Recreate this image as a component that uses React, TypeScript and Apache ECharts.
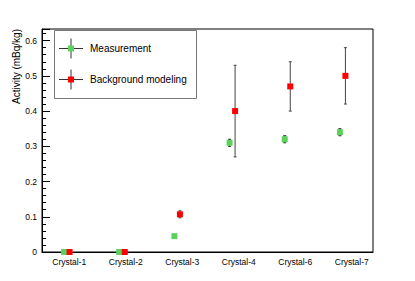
import React, { useEffect, useRef } from "react";
import * as echarts from "echarts";

const categories = ["Crystal-1", "Crystal-2", "Crystal-3", "Crystal-4", "Crystal-6", "Crystal-7"];
const measurement = [0, 0, 0.045, 0.31, 0.32, 0.34];
const measurementErr = [0, 0, 0, 0.01, 0.01, 0.01];
const background = [0, 0, 0.107, 0.4, 0.47, 0.5];
const backgroundErr = [0, 0, 0.01, 0.13, 0.07, 0.08];
const yTicks = [0, 0.1, 0.2, 0.3, 0.4, 0.5, 0.6];

const GREEN = "#5cd25c";
const RED = "#ff0000";
const FONT = "'Liberation Sans', Arial, Helvetica, sans-serif";

const App = () => {
  const ref = useRef<HTMLDivElement>(null);
  useEffect(() => {
    if (!ref.current) return;
    const chart = echarts.init(ref.current, undefined, { renderer: "svg" });

    const measPts = measurement.map((v, i) => [i + 0.4, v]);
    const bgPts = background.map((v, i) => [i + 0.5, v]);
    const measErr = measurement.map((v, i) => [i + 0.4, v - measurementErr[i], v + measurementErr[i]]);
    const bgErr = background.map((v, i) => [i + 0.5, v - backgroundErr[i], v + backgroundErr[i]]);

    const errRender = (color: string) => (params: any, api: any) => {
      const x = api.value(0);
      const lo = api.value(1);
      const hi = api.value(2);
      if (hi - lo <= 0) return { type: "group", children: [] };
      const p1 = api.coord([x, lo]);
      const p2 = api.coord([x, hi]);
      const cap = 1.5;
      const style = { stroke: color, lineWidth: 1 };
      return {
        type: "group",
        children: [
          { type: "line", shape: { x1: p1[0], y1: p1[1], x2: p2[0], y2: p2[1] }, style },
          { type: "line", shape: { x1: p1[0] - cap, y1: p1[1], x2: p1[0] + cap, y2: p1[1] }, style },
          { type: "line", shape: { x1: p2[0] - cap, y1: p2[1], x2: p2[0] + cap, y2: p2[1] }, style },
        ],
      };
    };

    const legendX = 54, legendY = 30, legendW = 142, legendH = 68;
    const entry = (cy: number, color: string, label: string) => [
      { type: "line", shape: { x1: 59, y1: cy, x2: 83, y2: cy }, style: { stroke: "#333", lineWidth: 1 } },
      { type: "line", shape: { x1: 71, y1: cy - 10, x2: 71, y2: cy + 10 }, style: { stroke: "#333", lineWidth: 1 } },
      { type: "rect", shape: { x: 68, y: cy - 3, width: 6, height: 6 }, style: { fill: color } },
      { type: "text", x: 90, y: cy, style: { text: label, fill: "#000", font: `10px ${FONT}`, verticalAlign: "middle", align: "left" } },
    ];

    chart.setOption({
      animation: false,
      backgroundColor: "#fff",
      grid: [
        { left: 42, right: 42, top: 29, bottom: 29, show: true, borderColor: "#000", borderWidth: 1, backgroundColor: "transparent" },
        { left: 41, right: 35, top: 29, bottom: 29, show: false },
      ],
      xAxis: [
        {
          type: "value",
          gridIndex: 0,
          min: 0,
          max: 6,
          interval: 0.5,
          axisLine: { show: true, lineStyle: { color: "#000" } },
          axisTick: { show: false },
          splitLine: { show: false },
          axisLabel: { show: false },
        },
        {
          type: "category",
          gridIndex: 1,
          data: categories,
          boundaryGap: true,
          axisLine: { show: false },
          axisTick: { show: false },
          splitLine: { show: false },
          axisLabel: { color: "#000", fontSize: 8.5, fontFamily: FONT, margin: 5, interval: 0 },
        },
      ],
      yAxis: [
        {
          type: "value",
          gridIndex: 0,
          min: 0,
          max: 0.633,
          interval: 0.1,
          axisLine: { show: true, lineStyle: { color: "#000" } },
          axisTick: { show: true, inside: true, length: 8, lineStyle: { color: "#000" } },
          minorTick: { show: true, splitNumber: 5, length: 4, lineStyle: { color: "#000" } },
          splitLine: { show: false },
          axisLabel: {
            color: "#000",
            fontSize: 8.5,
            fontFamily: FONT,
            margin: 5,
            formatter: (v: number) => {
              const t = yTicks.find((y) => Math.abs(y - v) < 1e-6);
              return t === undefined ? "" : String(t);
            },
          },
        },
        {
          type: "value",
          gridIndex: 1,
          show: false,
          min: 0,
          max: 1,
        },
      ],
      series: [
        {
          type: "custom",
          renderItem: errRender("#222"),
          data: measErr,
          encode: { x: 0, y: [1, 2] },
          clip: false,
          z: 2,
        },
        {
          type: "custom",
          renderItem: errRender("#444"),
          data: bgErr,
          encode: { x: 0, y: [1, 2] },
          clip: false,
          z: 2,
        },
        {
          name: "Measurement",
          type: "scatter",
          symbol: "rect",
          symbolSize: 6,
          data: measPts,
          itemStyle: { color: GREEN, opacity: 1 },
          clip: false,
          z: 3,
        },
        {
          name: "Background modeling",
          type: "scatter",
          symbol: "rect",
          symbolSize: 6,
          data: bgPts,
          itemStyle: { color: RED, opacity: 1 },
          clip: false,
          z: 3,
        },
      ],
      graphic: [
        {
          type: "text",
          x: 16,
          y: 29,
          rotation: Math.PI / 2,
          style: { text: "Activity (mBq/kg)", fill: "#000", font: `10px ${FONT}`, align: "right", verticalAlign: "middle" },
        },
        {
          type: "group",
          children: [
            { type: "rect", shape: { x: legendX + 0.5, y: legendY + 0.5, width: legendW, height: legendH }, style: { fill: "#fff", stroke: "#777", lineWidth: 1 } },
            ...entry(48.5, GREEN, "Measurement"),
            ...entry(79.5, RED, "Background modeling"),
          ],
        },
      ],
    });
    return () => chart.dispose();
  }, []);
  return <div ref={ref} style={{ width: 415, height: 281, position: "absolute", left: 0, top: 0 }} />;
};

export default App;
